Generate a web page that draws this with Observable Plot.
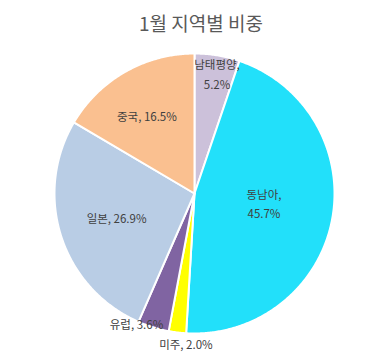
<!DOCTYPE html>
<html>
<head>
<meta charset="utf-8">
<script src="https://cdn.jsdelivr.net/npm/d3@7"></script>
<script src="https://cdn.jsdelivr.net/npm/@observablehq/plot@0.6"></script>
<style>
  html, body { margin: 0; padding: 0; background: #fff; }
  #title { height: 40px; line-height: 38px; padding-top: 4px; padding-left: 18px; box-sizing: border-box; text-align: center;
    font-family: "Noto Sans CJK KR", "Noto Sans", sans-serif; font-size: 19px; color: #595959; }
  svg { display: block; }
</style>
</head>
<body>
<div id="title"></div>
<div id="chart"></div>
<script>
const chartTitle = "1월 지역별 비중";
const regions = ["남태평양", "동남아", "미주", "유럽", "일본", "중국"];
const shares = [5.2, 45.7, 2.0, 3.6, 26.9, 16.5];
const colors = ["#CCC1DA", "#22E0FA", "#FFFF00", "#8064A2", "#B9CDE5", "#FAC090"];

// label placement (angle in degrees clockwise from 12 o'clock, radius as fraction of pie radius)
const labelLayout = [
  {a: 10.6, r: 0.876, wrap: true},
  {a: 97, r: 0.50, wrap: true},
  {a: 183.3, r: 1.066, wrap: false},
  {a: 204.2, r: 1.01, wrap: false},
  {a: 253.6, r: 0.58, wrap: false},
  {a: 329, r: 0.66, wrap: false}
];

document.getElementById("title").textContent = chartTitle;

const pie = d3.pie().sort(null).value(d => d)(shares);
const slicePts = [];
pie.forEach((p, i) => {
  slicePts.push({name: regions[i], x: 0, y: 0});
  const n = Math.max(4, Math.ceil((p.endAngle - p.startAngle) / (Math.PI / 360)));
  for (let k = 0; k <= n; k++) {
    const t = p.startAngle + (p.endAngle - p.startAngle) * k / n;
    slicePts.push({name: regions[i], x: Math.sin(t), y: Math.cos(t)});
  }
});

const labels = regions.map((name, i) => {
  const L = labelLayout[i];
  const t = L.a * Math.PI / 180;
  const pct = shares[i].toFixed(1) + "%";
  return {
    text: L.wrap ? name + ",\n" + pct : name + ", " + pct,
    x: L.r * Math.sin(t),
    y: L.r * Math.cos(t)
  };
});

const chart = Plot.plot({
  width: 384,
  height: 317,
  marginLeft: 54,
  marginRight: 50,
  marginTop: 13,
  marginBottom: 24,
  x: {domain: [-1, 1], axis: null},
  y: {domain: [-1, 1], axis: null},
  color: {domain: regions, range: colors},
  style: {fontFamily: "'Noto Sans CJK KR', 'Noto Sans', sans-serif", background: "#fff"},
  marks: [
    Plot.line(slicePts, {x: "x", y: "y", z: "name", fill: "name", stroke: "#fff", strokeWidth: 2, curve: "linear-closed"}),
    Plot.text(labels, {x: "x", y: "y", text: "text", fontSize: 11.5, fill: "#404040", lineHeight: 1.7})
  ]
});
document.getElementById("chart").appendChild(chart);
</script>
</body>
</html>
